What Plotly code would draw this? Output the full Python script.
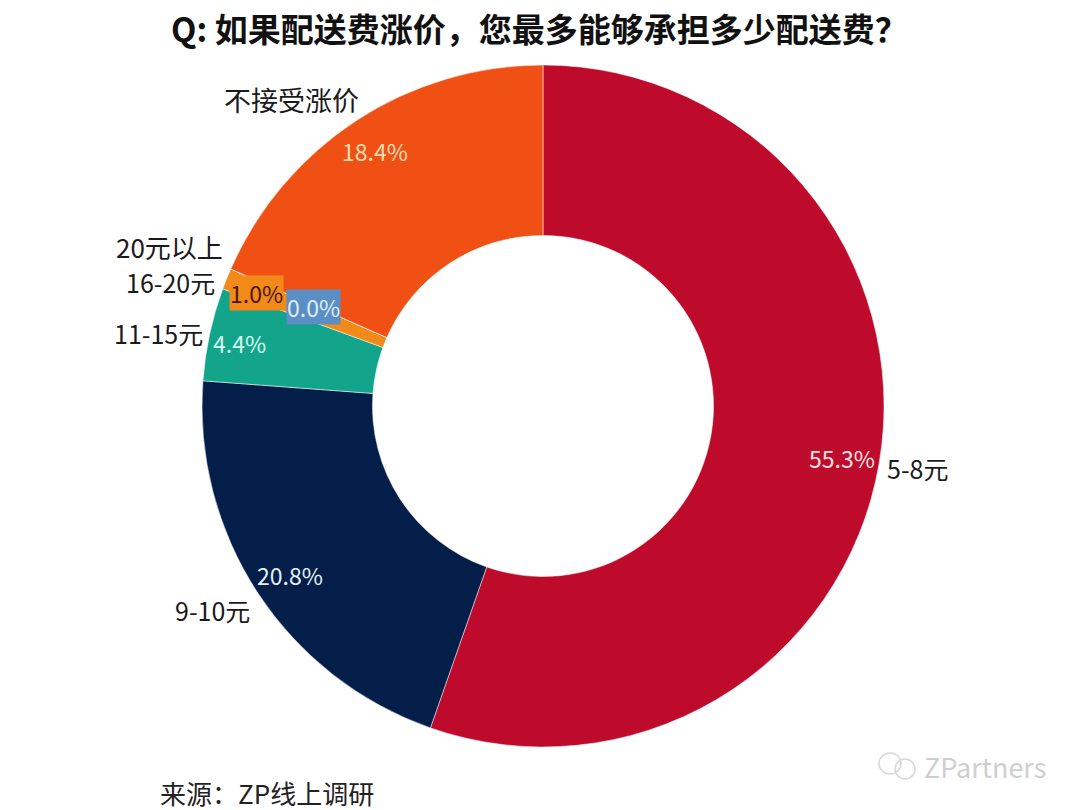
import plotly.graph_objects as go

W = 1080
H = 810
CJK = "Noto Sans CJK SC"

categories = ["5-8元", "9-10元", "11-15元", "16-20元", "20元以上", "不接受涨价"]
values = [55.3, 20.8, 4.4, 1.0, 0.0, 18.4]
colors = ["#BE0A2B", "#041E4A", "#12A58C", "#F28A1A", "#5B9BD5", "#F05014"]
pct_text = ["55.3%", "20.8%", "4.4%", "1.0%", "0.0%", "18.4%"]

# pixel centres of the labels
label_pos = [(917, 468), (212, 610), (158, 333), (170, 282), (169, 247), (291, 99)]
label_size = [25, 25, 25, 25, 26, 27]
pct_pos = [(842, 458), (290, 575), (239, 343), (256, 293), (313, 307), (375, 151)]
pct_color = ["#FBE3E0", "#E3F0F7", "#D5FAF0", "#4A1500", "#DCEEFA", "#FBDDB0"]
pct_bg = [None, None, None, "#F28A1A", "#5B8EC4", None]


def px(x):
    return x / W


def py(y):
    return 1 - y / H


fig = go.Figure()
fig.add_trace(go.Pie(
    labels=categories, values=values, hole=0.5, sort=False,
    direction="clockwise", rotation=0, textinfo="none", hoverinfo="label+percent",
    marker=dict(colors=colors, line=dict(color="#ffffff", width=0.5)),
    domain=dict(x=[px(202), px(884)], y=[py(747), py(65)]),
    showlegend=False,
))

annos = []
for name, (x, y), s in zip(categories, label_pos, label_size):
    annos.append(dict(x=px(x), y=py(y), text=name, font=dict(size=s, color="#1a1a1a")))
for t, (x, y), c, bg in zip(pct_text, pct_pos, pct_color, pct_bg):
    a = dict(x=px(x), y=py(y), text=t, font=dict(size=23, color=c), borderpad=0)
    if bg:
        a["bgcolor"] = bg
    annos.append(a)
annos.append(dict(x=px(539), y=py(28), text="<b>Q: 如果配送费涨价，您最多能够承担多少配送费？</b>",
                  font=dict(size=33, color="#111111")))
annos.append(dict(x=px(267), y=py(792), text="来源：ZP线上调研", font=dict(size=26, color="#222222")))
annos.append(dict(x=px(985), y=py(766), text="ZPartners", font=dict(size=27, color="#cfcfcf")))

for a in annos:
    a.update(xref="paper", yref="paper", showarrow=False, xanchor="center", yanchor="middle")

# watermark icon: two small speech bubbles
shapes = [
    dict(type="circle", xref="paper", yref="paper", x0=px(879), x1=px(901), y0=py(774), y1=py(753),
         line=dict(color="#d8d8d8", width=1.5), fillcolor="rgba(255,255,255,0)"),
    dict(type="circle", xref="paper", yref="paper", x0=px(895), x1=px(915), y0=py(779), y1=py(759),
         line=dict(color="#d8d8d8", width=1.5), fillcolor="rgba(255,255,255,0)"),
]

fig.update_layout(
    width=W, height=H, margin=dict(l=0, r=0, t=0, b=0),
    paper_bgcolor="#ffffff", font=dict(family=CJK),
    annotations=annos, shapes=shapes,
)
fig.write_html("out.html", config={"displayModeBar": False},
               post_script="document.body.style.margin='0';document.body.style.overflow='hidden';")
